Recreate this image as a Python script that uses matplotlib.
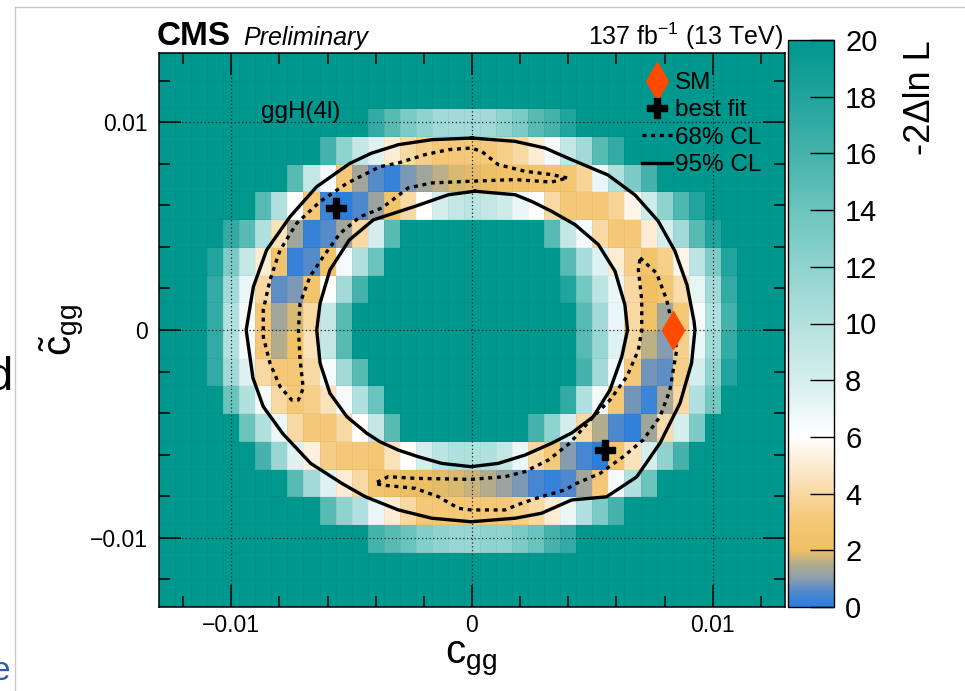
import numpy as np
import matplotlib
matplotlib.use("Agg")
import matplotlib.pyplot as plt
from matplotlib.colors import LinearSegmentedColormap
from matplotlib.lines import Line2D
from matplotlib.ticker import MultipleLocator

# ---------------- data ----------------
x_min, x_max, n_x = -0.013, 0.013, 39
y_min, y_max, n_y = -0.04 / 3, 0.04 / 3, 20

# -2 Delta ln L per bin, rows from top (highest c~gg) to bottom, 39 columns left->right
T = 20
dnll_rows = [
    [T]*39,
    [T]*39,
    [T]*13 + [17, 15, 13, 12, 11, 11, 11, 11, 12, 13, 15, 16, 18] + [T]*13,
    [T]*10 + [16, 12, 9, 7.5, 5, 4, 3.5, 3, 3, 3, 3, 3.5, 4, 5, 6.5, 9, 11, 15, 17] + [T]*10,
    [T]*8 + [15, 9, 6.5, 3, 1.3, 0.6, 0.2, 0.9, 1.3, 1.6, 1.8, 1.9, 2.0, 2.2, 2.4, 2.5, 2.6, 2.8, 3.8, 7, 10, 13, 16] + [T]*8,
    [T]*6 + [15, 10, 6, 3, 0.3, 0.0, 0.5, 1.2, 2.5, 4, 6, 8, 9, 9.5, 9, 8.5, 7, 6, 4, 3, 3, 3, 3.7, 5.5, 8.5, 12, 15.5, 18] + [T]*5,
    [T]*4 + [17, 15, 10, 4.5, 1.3, 0.2, 0.6, 1.3, 4, 8, 15] + [T]*9 + [15, 9, 6.5, 4, 3, 3, 5, 8, 11, 15, 18] + [T]*4,
    [T]*3 + [18, 13, 9, 5, 2.5, 0.2, 0.6, 2.5, 6.5, 10, 14] + [T]*11 + [15, 10.5, 7.5, 5, 3.5, 2.5, 3.5, 5.5, 9.5, 13, 18] + [T]*3,
    [T]*3 + [17, 11, 7, 4, 0.7, 0.9, 2.5, 6, 11, 16] + [T]*12 + [18, 13.5, 9.5, 7, 4, 2.1, 2.8, 4.2, 7.2, 11, 17] + [T]*3,
    [T]*3 + [17, 10, 6.5, 3, 1.3, 1.8, 4, 9, 15] + [T]*14 + [15, 11, 7, 4, 2.3, 1.3, 3, 6.5, 10, 16] + [T]*3,
    [T]*3 + [17, 10, 6.5, 3, 1.5, 2.3, 4.5, 9, 15] + [T]*14 + [15, 11.5, 7.5, 4, 1.6, 1.0, 3.5, 7, 11, 17] + [T]*3,
    [T]*3 + [17, 11, 7.5, 4, 3, 3, 4, 6.5, 11, 15] + [T]*13 + [16, 11, 6.5, 3, 0.8, 0.7, 3.5, 8, 12, 18] + [T]*3,
    [T]*4 + [14, 10, 6.5, 4, 3, 3.5, 4.5, 6.5, 10, 14] + [T]*11 + [17, 10, 6.5, 3, 0.8, 0.3, 1.4, 4, 10, 13.5] + [T]*4,
    [T]*5 + [14, 10, 7, 4, 3, 3, 4, 6, 9, 15] + [T]*8 + [16, 12, 8, 4, 1.5, 0.5, 0.1, 1.3, 4.2, 8, 13] + [T]*5,
    [T]*6 + [16, 11.5, 7.5, 5.3, 3.3, 3, 3, 2.9, 4.5, 6, 8, 9.5, 10, 10, 10, 9, 7, 4, 3, 1.0, 0.4, 0.0, 2.8, 4.5, 8, 12, 16] + [T]*6,
    [T]*8 + [15, 11, 7.5, 5, 4, 2.5, 2.3, 2, 2, 1.9, 1.8, 1.7, 1.5, 1.2, 0.9, 0.4, 0.2, 0.5, 1.3, 3, 6.5, 10, 14] + [T]*8,
    [T]*10 + [15, 12, 10, 7, 5, 4, 3, 3, 3, 3, 3, 3, 3.5, 4, 5, 7, 10, 13, 16] + [T]*10,
    [T]*13 + [16, 15, 14, 12.5, 12, 11.5, 11.5, 12, 12, 13, 14, 16, 17] + [T]*13,
    [T]*39,
    [T]*39,
]

# contours, coordinates in units of 1e-3
cl95_outer_x = [0, 1.79, 3.03, 4.07, 5.65, 6.77, 7.73, 8.43, 8.93, 9.22, 9.26, 9.12, 8.64, 7.81, 6.84,
                5.59, 4.14, 2.89, 1.79, -0.04, -1.67, -3.06, -4.44, -5.41, -6.7, -7.85, -8.67, -9.1,
                -9.38, -9.08, -8.53, -7.56, -6.45, -5.07, -4.2, -3.06, -1.67]
cl95_outer_y = [9.24, 9.08, 8.76, 8.23, 7.46, 6.50, 5.25, 3.80, 2.17, 0.43, 0, -1.59, -3.52, -5.44, -7.07,
                -8.03, -8.18, -8.82, -9.06, -9.23, -9.06, -8.66, -8.02, -7.38, -6.42, -5.0, -3.69, -2.3,
                0, 2.08, 3.85, 5.45, 6.90, 8.02, 8.5, 8.92, 9.16]
cl95_inner_x = [0.12, 1.79, 2.48, 3.31, 4.28, 5.25, 5.94, 6.35, 6.46, 6.22, 5.73, 5.04, 4.15, 3.31, 2.2,
                1.09, -0.04, -1.26, -2.23, -3.06, -3.82, -4.37, -5.2, -5.9, -6.31, -6.45, -6.31, -5.9,
                -5.1, -4.1, -2.37, -0.98]
cl95_inner_y = [6.68, 6.51, 6.19, 5.71, 5.07, 4.11, 2.83, 1.22, 0, -1.29, -2.89, -4.17, -4.95, -5.45, -6.02,
                -6.42, -6.58, -6.42, -6.10, -5.78, -5.38, -4.97, -4.17, -3.05, -1.60, 0, 1.29, 2.89,
                4.33, 5.3, 5.95, 6.51]
cl68_upper_x = [3.95, 3.31, 2.2, 1.09, 0.40, -0.04, -0.98, -1.95, -3.06, -3.82, -5.2, -6.31, -7.28, -7.97,
                -8.39, -8.67, -8.67, -8.39, -7.97, -7.49, -7.21, -7.01, -7.14, -7.21, -7.14, -6.73, -6.18,
                -5.48, -4.65, -3.75, -3.2, -2.65, -1.67, -0.04, 1.79, 3.31]
cl68_upper_y = [7.32, 7.48, 7.64, 7.96, 8.60, 8.76, 8.68, 8.44, 8.04, 7.86, 7.06, 6.18, 5.14, 3.85,
                2.41, 0.96, -0.32, -1.60, -2.73, -3.37, -3.37, -2.81, -1.44, 0, 1.29, 2.57, 3.53,
                4.65, 5.45, 5.87, 6.35, 6.84, 7.08, 7.16, 7.24, 7.12]
cl68_lower_x = [6.98, 7.67, 8.09, 8.36, 8.5, 8.22, 7.81, 7.11, 6.28, 5.32, 4.35, 3.86, 2.89, 2.06, 1.37,
                -0.04, -0.57, -1.40, -2.37, -3.75, -4.03, -3.48, -2.37, -0.04, 1.37, 2.2, 3.17, 4.07,
                5.04, 5.73, 6.43, 6.91, 7.05, 7.05, 6.91]
cl68_lower_y = [3.47, 2.73, 1.44, 0, -0.96, -2.89, -4.17, -5.29, -6.10, -6.9, -7.38, -7.70, -8.02, -8.34,
                -8.66, -8.66, -8.58, -8.02, -7.62, -7.46, -7.38, -7.06, -7.14, -7.19, -7.06, -6.82,
                -6.26, -5.44, -4.17, -3.37, -2.25, -0.96, 0, 1.44, 2.89]

sm_x, sm_y = [0.00836], [0.0]
best_fit_x = [-0.00563, 0.00552]
best_fit_y = [0.00586, -0.00578]

x_ticks = [-0.01, 0.0, 0.01]
x_tick_labels = ["\u22120.01", "0", "0.01"]
y_ticks = [-0.01, 0.0, 0.01]
y_tick_labels = ["\u22120.01", "0", "0.01"]
z_ticks = list(range(0, 21, 2))

# ---------------- style ----------------
plt.rcParams["font.family"] = ["Liberation Sans", "DejaVu Sans"]
plt.rcParams["mathtext.fontset"] = "custom"
plt.rcParams["mathtext.rm"] = "Liberation Sans"
plt.rcParams["mathtext.it"] = "Liberation Sans:italic"

cmap = LinearSegmentedColormap.from_list("cms", [
    (0.0 / 20, "#2a7fde"),
    (0.5 / 20, "#4f89cc"),
    (1.0 / 20, "#8d9eac"),
    (1.5 / 20, "#b4ad8c"),
    (2.0 / 20, "#f0c062"),
    (3.0 / 20, "#f4c877"),
    (4.0 / 20, "#f8d9a3"),
    (5.0 / 20, "#fcecd3"),
    (6.0 / 20, "#ffffff"),
    (7.0 / 20, "#eaf7f6"),
    (8.0 / 20, "#d4eeed"),
    (10.0 / 20, "#b2e1de"),
    (12.0 / 20, "#8fd3ce"),
    (14.0 / 20, "#6bc4be"),
    (16.0 / 20, "#45b3ac"),
    (18.0 / 20, "#21a49d"),
    (20.0 / 20, "#00978f"),
])

fig = plt.figure(figsize=(9.65, 6.91), dpi=100)
W, H = 965.0, 691.0
ax = fig.add_axes([159 / W, 1 - 607 / H, (785 - 159) / W, (607 - 53) / H])
cax = fig.add_axes([788 / W, 1 - 607 / H, (834 - 788) / W, (607 - 40) / H])

x_edges = np.linspace(x_min, x_max, n_x + 1)
y_edges = np.linspace(y_min, y_max, n_y + 1)
Z = np.array(dnll_rows, dtype=float)[::-1]
mesh = ax.pcolormesh(x_edges, y_edges, Z, cmap=cmap, vmin=0, vmax=20, shading="flat",
                     edgecolors=(0, 0, 0, 0.04), linewidth=0.4, zorder=1)

def closed(a):
    a = np.asarray(a, dtype=float) * 1e-3
    return np.r_[a, a[:1]]

lw95 = 2.4
ax.plot(closed(cl95_outer_x), closed(cl95_outer_y), color="k", lw=lw95, zorder=4)
ax.plot(closed(cl95_inner_x), closed(cl95_inner_y), color="k", lw=lw95, zorder=4)
dots = (0, (1.2, 1.4))
ax.plot(closed(cl68_upper_x), closed(cl68_upper_y), color="k", lw=2.4, ls=dots, zorder=4)
ax.plot(closed(cl68_lower_x), closed(cl68_lower_y), color="k", lw=2.4, ls=dots, zorder=4)

ax.plot(sm_x, sm_y, ls="none", marker="d", ms=19, color="#ff4a00", mec="#ff4a00", zorder=6)
ax.plot(best_fit_x, best_fit_y, ls="none", marker="P", ms=14, color="k", zorder=6)

ax.set_xlim(x_min, x_max)
ax.set_ylim(y_min, y_max)
ax.set_xticks(x_ticks, x_tick_labels)
ax.set_yticks(y_ticks, y_tick_labels)
ax.xaxis.set_minor_locator(MultipleLocator(0.002))
ax.yaxis.set_minor_locator(MultipleLocator(0.002))
ax.tick_params(which="both", direction="in", top=True, right=True, width=1.1, labelsize=16.5)
ax.tick_params(which="major", length=16)
ax.tick_params(axis="x", which="major", pad=5)
ax.tick_params(axis="y", which="major", pad=8)
ax.tick_params(which="minor", length=8)
ax.set_axisbelow(False)
ax.grid(True, which="major", color="#222222", lw=0.9, ls=(0, (1, 2)))
for s in ax.spines.values():
    s.set_linewidth(1.1)

handles = [
    Line2D([], [], ls="none", marker="d", ms=19, color="#ff4a00"),
    Line2D([], [], ls="none", marker="P", ms=14, color="k"),
    Line2D([], [], color="k", lw=2.4, ls=dots),
    Line2D([], [], color="k", lw=2.4),
]
ax.legend(handles, ["SM", "best fit", "68% CL", "95% CL"], loc="upper left",
          bbox_to_anchor=((642 - 159) / 626, (607 - 72) / 554), frameon=False,
          fontsize=17.5, handlelength=1.25, handletextpad=0.12, labelspacing=0.22,
          borderpad=0, borderaxespad=0)

ax.text((261 - 159) / 626, (607 - 118) / 554, "ggH(4l)", transform=ax.transAxes,
        fontsize=17.5, ha="left", va="baseline")

cb = fig.colorbar(mesh, cax=cax, ticks=z_ticks)
cb.outline.set_linewidth(1.0)
cax.tick_params(direction="in", length=17, width=1.0, labelsize=21, pad=8)

fig.text(921 / W, 1 - 40 / H, "-2\u0394ln L", rotation=90, ha="center", va="top", fontsize=26)

fig.text(157 / W, 1 - 45 / H, "CMS", fontsize=24, fontweight="bold", ha="left", va="baseline")
fig.text(243 / W, 1 - 45 / H, "Preliminary", fontsize=18, fontstyle="italic", ha="left", va="baseline")
fig.text(783 / W, 1 - 45 / H, r"137 fb$^{\mathregular{-1}}$ (13 TeV)", fontsize=18, ha="right", va="baseline")

fig.text(471 / W, 1 - 663 / H, r"$\mathregular{c_{gg}}$", fontsize=29, ha="center", va="baseline")
fig.text(62 / W, 1 - 330 / H, r"$\mathregular{\tilde{c}_{gg}}$", fontsize=29, rotation=90,
         ha="center", va="center")

# page artefacts of the screenshot
fig.add_artist(Line2D([15 / W, 1], [1 - 7 / H, 1 - 7 / H], color="#c8c8c8", lw=1))
fig.add_artist(Line2D([15 / W, 15 / W], [0, 1 - 7 / H], color="#c8c8c8", lw=1))
fig.text(13 / W, 1 - 390 / H, "d", fontsize=34, ha="right", va="baseline")
fig.text(10 / W, 1 - 680 / H, "e", fontsize=24, ha="right", va="baseline", color="#2a5db0")

fig.savefig("out.png", dpi=100)
